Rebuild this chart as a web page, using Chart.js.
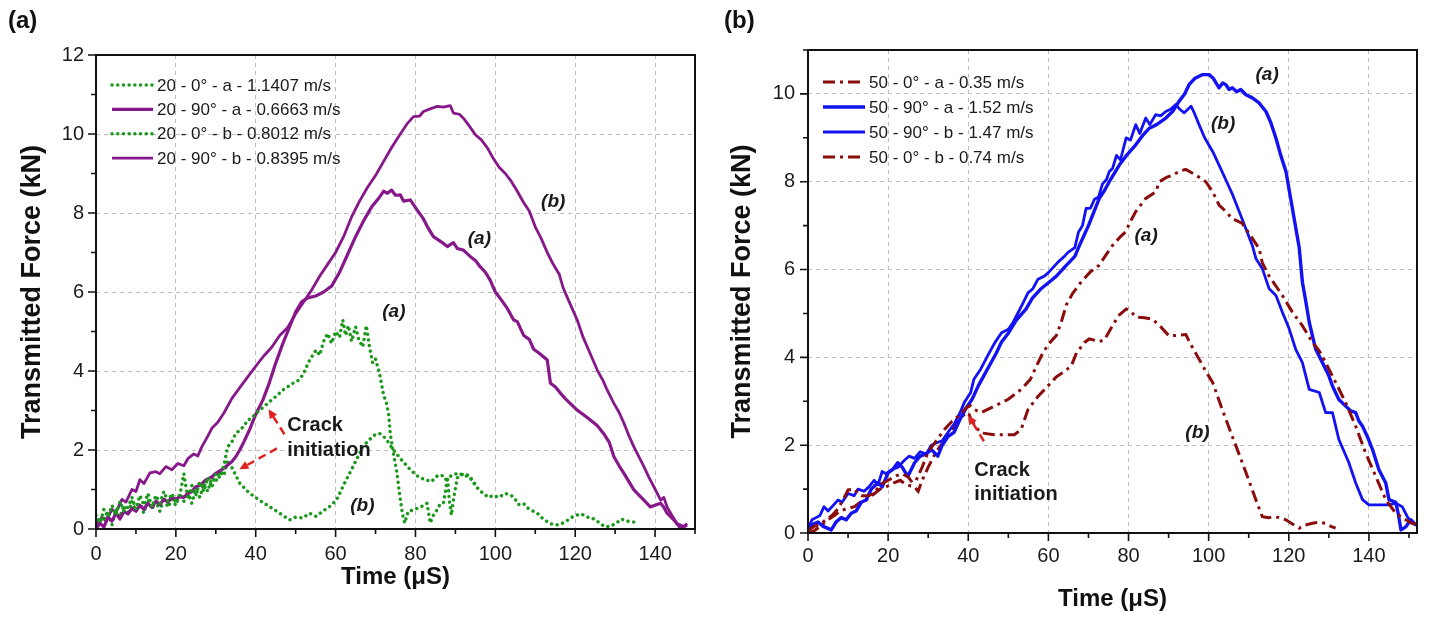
<!DOCTYPE html>
<html>
<head>
<meta charset="utf-8">
<script src="https://cdn.jsdelivr.net/npm/chart.js@4.4.0/dist/chart.umd.min.js"></script>
<style>
  html, body { margin: 0; padding: 0; background: #fff; }
  #wrap { position: relative; width: 1429px; height: 619px; }
  canvas { position: absolute; top: 0; }
  #left { left: 0; }
  #right { left: 715px; }
</style>
</head>
<body>
<div id="wrap">
  <canvas id="left" width="715" height="619"></canvas>
  <canvas id="right" width="714" height="619"></canvas>
</div>
<script>
// ---- panel (a) : 20 mm specimens ----
const t20_0a = [0,1,2,3,4,5,6,7,8,9,10,11,12,13,14,15,16,17,18,19,20,21,22,23,24,25,26,27,28,29,30,31,32,33,34,35,36,37,38,39,40,41,42,43,44,45,46.8,48,49.3,50.5,51.8,53.5,55.1,56,57,58,59,60,61,61.8,62.5,63.2,64,65,65.8,66.8,67.7,68.5,69.3,70,71,72,72.7,73.3,73.7,74.5,75.4,76,76.7,77.3,78.2,79.5,81,82.2,82.9,83.7,84.5,85.4,86,87,87.6,88,88.5,89,89.6,90.5,92,93.5,95];
const f20_0a = [0.35,0.15,0.5,0.3,0.6,0.35,0.7,0.45,0.55,0.8,0.5,0.85,0.6,0.9,0.55,0.85,0.65,0.95,0.7,0.9,0.65,0.85,1.4,0.75,1.1,0.85,1.2,0.95,1.3,1.05,1.4,1.3,1.6,2.08,2.2,2.42,2.5,2.6,2.76,2.8,2.93,3.0,3.1,3.18,3.27,3.35,3.52,3.6,3.69,3.75,3.9,4.28,4.53,4.4,4.75,4.95,4.7,5.0,4.85,5.29,4.9,5.15,4.75,5.12,4.8,4.61,5.15,4.6,4.2,4.3,3.94,3.4,3.2,2.9,2.4,1.9,1.4,0.9,0.4,0.15,0.45,0.48,0.55,0.6,0.65,0.15,0.35,0.48,0.6,0.65,1.0,1.32,0.7,0.35,0.8,1.3,1.4,1.35,1.1];

const t20_90a = [0,1,2,3,4,5,6,7,8,9,10,11,12,13,14,15,16,17,18,19,20,21,22,23,24,25,26,27.5,29,30,31.5,32.5,34,35,36,37,38.4,40,41.8,43.4,45,46.8,48.5,50,51.5,53,55,57,59,61,63,65,67,69,71,72,73,74,75,76.2,77,78.7,80.4,82,83,84.5,86,87,88,88.7,89.5,90.5,92,93.7,95,96.2,97.5,98.7,100,101.5,102.9,104.6,105.5,107.1,108.5,109.6,111,113,113.8,115,116.3,117.5,120.5,122,123.8,125.5,127.1,128.5,129.7,131,132.2,134.7,137.2,138.8,140,141.4,142.2,143,144.7,146.4,148];
const f20_90a = [0,0.15,0.05,0.3,0.2,0.4,0.25,0.45,0.38,0.52,0.45,0.6,0.5,0.65,0.55,0.7,0.62,0.75,0.68,0.8,0.75,0.82,0.8,0.9,0.95,1.07,1.1,1.24,1.32,1.41,1.5,1.58,1.7,1.83,2.0,2.2,2.5,2.9,3.27,3.7,4.2,4.7,5.12,5.5,5.75,5.85,5.9,6.0,6.15,6.5,6.95,7.4,7.8,8.15,8.4,8.55,8.5,8.58,8.45,8.46,8.3,8.33,8.08,7.85,7.65,7.4,7.3,7.23,7.15,7.2,7.25,7.1,7.06,6.9,6.8,6.64,6.5,6.3,6.0,5.8,5.6,5.29,5.25,4.9,4.8,4.55,4.45,4.28,3.69,3.6,3.44,3.3,3.01,2.9,2.76,2.62,2.42,2.2,1.83,1.6,1.41,0.99,0.73,0.56,0.6,0.65,0.55,0.4,0.23,0.02,0.1];

const t20_0b = [0,1,2,3,4,5,6,7,8,9,10,11,12,13,14,15,16,17,18,19,20,21,22,23,24,25,26,27,28,29,30,31,32,33,34.3,36,38.4,40.9,43.4,46,48.5,50,51.8,53.5,55.1,56.8,58.5,60.2,61.8,63.5,65.2,66.8,68.3,69.8,71,72.5,74.5,76.5,78.7,81,82.5,84,85.5,86.6,87.5,89,90.8,92,93.3,94.5,95.8,97,98.3,99.5,100.8,102.5,104,105,105.8,107,108,109.5,110.5,111.6,112.8,114,115.2,116.5,117.8,119,120.3,121.6,123,124,125.5,126.5,127.6,129,130,131.6,133,135];
const f20_0b = [0.1,0.3,0.2,0.45,0.1,0.5,0.3,0.6,0.35,0.7,0.45,0.65,0.4,0.75,0.5,0.7,0.45,0.8,0.55,0.75,0.6,0.9,0.7,0.95,0.65,1.0,0.8,1.15,0.95,1.3,1.2,1.45,1.35,1.75,1.5,1.16,0.91,0.73,0.57,0.4,0.23,0.3,0.28,0.4,0.32,0.45,0.57,0.73,1.07,1.41,1.75,2.08,2.25,2.38,2.42,2.3,2.0,1.75,1.5,1.3,1.25,1.2,1.35,1.36,1.25,1.35,1.42,1.35,1.33,1.2,1.0,0.9,0.8,0.85,0.8,0.9,0.85,0.75,0.62,0.65,0.54,0.45,0.4,0.29,0.2,0.13,0.1,0.13,0.2,0.29,0.35,0.38,0.3,0.29,0.2,0.12,0.05,0.08,0.13,0.25,0.2,0.17];

const t20_90b = [0,1.5,2.5,4,5,6.5,7.5,9,10,11,12,13.5,15,16,17.5,19,20.5,22,23,24.5,25.5,26.5,28,29,30.5,32,34,36,38,40,42,44,46,48,50,52,54,56,58,60,62,64,66,68,70,72,74,76,78,79.5,81,82,84,85.5,87,88.7,89.5,91,92,93.5,95,96.5,98,99.5,101,102.5,104,105.5,107,108.5,110,111.5,113,114.5,116,117,118.5,120.5,122,123.5,125.5,127,128,129.7,131,132.2,133.5,134.7,136,137.2,138.5,139.7,141.4,142.2,143,144.2,145.5,147.2,148];
const f20_90b = [0.1,0.3,0.2,0.5,0.42,0.75,0.68,1.0,0.95,1.25,1.15,1.42,1.45,1.4,1.58,1.5,1.66,1.6,1.78,1.9,1.85,2.08,2.35,2.55,2.7,2.93,3.3,3.58,3.85,4.12,4.38,4.6,4.9,5.1,5.45,5.75,6.05,6.4,6.7,7.0,7.4,7.9,8.3,8.65,8.95,9.3,9.65,9.97,10.27,10.44,10.45,10.57,10.65,10.7,10.68,10.72,10.53,10.5,10.4,10.2,9.98,9.85,9.65,9.38,9.15,9.0,8.8,8.55,8.28,8.05,7.65,7.35,7.0,6.7,6.45,6.1,5.75,5.29,4.85,4.5,4.03,3.75,3.52,3.18,2.95,2.68,2.35,2.08,1.82,1.58,1.3,1.07,0.73,0.8,0.56,0.35,0.14,0.06,0.14];

// ---- panel (b) : 50 mm specimens ----
const t50_0a = [0,1.5,3,4.5,6,7.5,9,10,11.6,12.5,13.3,15,16.5,18,20,22,23.5,25,26,27,28.5,30,32,34,36,38,39.5,40.5,41.6,43.2,46.5,49.9,53.2,55.5,57,58.6,60,62,63.2,64.5,66,68.2,70.5,72.7,74.5,76,78,79.3,80.5,81.8,84.3,86.8,87.7,89.5,91,93,94.3,96.8,99.3,101,102.6,104.3,105.9,108.4,110.9,112.6,113.4,115.1,118.4,120.9,123.4,125.9,127.6,129.2,131.7,134.2,136.7,139.2,141.7,144.2,146.7,149.2,150.8,151.8];
const f50_0a = [0.05,0.15,0.2,0.3,0.4,0.55,0.8,0.98,1.0,0.9,0.85,0.85,0.9,1.1,1.2,1.3,1.35,1.28,1.15,1.2,1.5,1.85,2.1,2.35,2.55,2.7,2.85,2.9,2.81,2.74,2.89,3.04,3.27,3.5,3.8,4.1,4.3,4.5,4.8,5.2,5.45,5.72,5.95,6.1,6.35,6.55,6.75,6.86,7.1,7.32,7.62,7.77,8.0,8.1,8.15,8.25,8.28,8.15,8.0,7.77,7.47,7.32,7.16,7.05,6.71,6.48,6.15,5.85,5.41,5.03,4.72,4.34,4.15,3.88,3.43,2.97,2.43,1.82,1.29,0.76,0.45,0.3,0.22,0.2];

const t50_90a = [0,1.2,2.5,3.8,5.8,7,8.3,9.5,10.8,12,13.3,14.5,15.8,17.5,18.5,20,21.2,22.4,23.5,24.9,25.8,26.6,28,29.5,30.8,32.4,33.5,35,36.5,38,39.5,41,42.5,44,45.5,47,48.3,50,52,54.4,56,58,60,62,64.4,66.6,68,70,72.7,74,75.5,77.7,79.5,81.8,83.5,85.2,87,89.3,91,92.6,94,95.1,96.5,98.5,100.1,101.2,102.6,103.5,104.3,105.1,105.9,107,108,109.3,110.9,112.5,114.3,115.5,116.8,118,119.3,120.9,122.6,123.4,124.2,125.1,126.7,128.4,130,130.9,132.5,134.2,135.5,136.7,137.5,138.4,139.6,140.9,142.5,144.2,145,146.7,147.3,148,149.2,150.5,151.5];
const f50_90a = [0.05,0.2,0.25,0.15,0.07,0.25,0.35,0.3,0.45,0.5,0.7,0.75,1.0,1.15,1.05,1.37,1.45,1.6,1.5,1.29,1.45,1.6,1.75,1.8,1.9,1.75,2.0,2.2,2.3,2.6,2.85,3.05,3.35,3.6,3.85,4.1,4.35,4.55,4.85,5.1,5.35,5.55,5.7,5.85,6.09,6.3,6.6,7.0,7.62,7.8,8.05,8.38,8.6,8.84,9.05,9.22,9.3,9.45,9.6,9.83,10.0,10.21,10.35,10.44,10.44,10.35,10.14,10.25,10.21,10.1,10.14,10.05,10.1,9.98,9.91,9.8,9.6,9.35,8.99,8.6,8.23,7.39,6.5,5.71,5.3,4.8,4.19,3.88,3.58,3.35,3.04,2.89,2.78,2.74,2.55,2.43,2.2,1.9,1.44,1.14,0.76,0.7,0.45,0.07,0.14,0.3,0.2];

const t50_90b = [0,1,2,3,4,5,6,7.5,8.5,10,11.5,12.5,14,15.2,16.5,17.5,18.5,19.5,21,22.5,24,25.2,26.6,28,29.5,30.8,32,33.5,35,36.6,38,39,40.6,41.4,43.1,44.8,46.6,48.3,50,51.2,52.4,54,54.9,56.1,57.4,59,60,61.2,62.4,64,64.9,66.6,67.5,68.5,69.4,70.5,71.5,72.5,73.5,74.5,75.2,76,77,78,79.4,80.5,81.8,82.8,84.3,85.3,86.8,88,89.3,90.5,91.8,92.8,93.9,95.6,96.5,97.6,99,101,103,104.5,106,107.5,109,110.9,111.8,113.4,115.1,116.8,118.4,120.1,121.7,123.4,125.1,127.6,129.2,130.9,132.5,135,136.7,138.4,140,145,146.7,148.3,149.6,150.8,151.8];
const f50_90b = [0.1,0.3,0.35,0.4,0.6,0.5,0.6,0.75,0.7,0.9,0.85,1.0,0.95,1.05,1.2,1.1,1.4,1.35,1.45,1.5,1.65,1.75,1.7,1.85,1.8,2.0,2.05,2.1,2.3,2.5,2.75,2.97,3.2,3.5,3.73,4.03,4.33,4.56,4.64,4.8,5.01,5.3,5.47,5.56,5.78,5.85,5.93,6.05,6.17,6.3,6.39,6.5,6.85,7.0,7.39,7.4,7.6,7.65,7.95,8.05,8.23,8.3,8.6,8.5,9.0,8.95,9.3,9.1,9.45,9.3,9.53,9.5,9.6,9.65,9.76,9.65,9.57,9.72,9.55,9.3,9.0,8.69,8.3,8.0,7.7,7.35,7.0,6.55,6.25,6.02,5.56,5.41,5.03,4.65,4.19,3.88,3.27,3.2,2.74,2.74,2.13,1.6,1.14,0.76,0.64,0.64,0.68,0.6,0.37,0.22,0.18];

const t50_0b = [0,1.5,3,5,6.6,8,9.5,11.6,13,14.5,16.6,18,19.5,21.6,23,24.5,26.6,27.5,28.5,30,32,34,36,38,39.5,40.2,40.7,42,43.2,46.5,51.5,53.2,54.9,57.4,59.9,61.9,63.5,65.7,67,69,70.2,72.7,74,76,77.5,79.4,80.5,81.9,84,86,88,90.1,92,94.3,95.5,97.6,99.5,101,103.4,105.9,108.4,110.9,112,113.4,115,116.8,119.3,121,122.6,124,125.9,127.5,129.2,130.5,131.7];
const f50_0b = [0,0.05,0.15,0.3,0.4,0.5,0.55,0.6,0.7,0.75,0.9,1.0,1.05,1.15,1.2,1.1,1.05,0.95,1.2,1.5,1.85,2.1,2.35,2.6,2.75,2.7,2.59,2.4,2.28,2.24,2.24,2.36,2.81,3.11,3.35,3.55,3.65,3.8,4.1,4.34,4.42,4.36,4.4,4.72,4.95,5.1,5.05,4.92,4.9,4.87,4.7,4.49,4.5,4.52,4.3,3.96,3.65,3.43,2.81,2.2,1.6,0.98,0.7,0.37,0.35,0.37,0.3,0.2,0.11,0.18,0.22,0.25,0.22,0.15,0.11];

// tick spacing
const xMajorStep = 20, xMinorStep = 10;
const yMajorStep = 2, yMinorStep = 1;

const FONT = "'Liberation Sans', Arial, sans-serif";
const GREEN = '#1c991c', PURPLE = '#86188a', BLUE = '#1212f2', DARKRED = '#8a0c0c', ARROW = '#e02323';

function pts(t, f) {
    return t.map((v, i) => ({ x: v, y: f[i] }));
}

function drawArrow(ctx, x1, y1, x2, y2) {
    const ang = Math.atan2(y2 - y1, x2 - x1);
    const hl = 10;
    ctx.strokeStyle = ARROW;
    ctx.fillStyle = ARROW;
    ctx.lineWidth = 2.5;
    ctx.setLineDash([8, 5]);
    ctx.beginPath();
    ctx.moveTo(x1, y1);
    ctx.lineTo(x2 - Math.cos(ang) * hl * 0.8, y2 - Math.sin(ang) * hl * 0.8);
    ctx.stroke();
    ctx.setLineDash([]);
    ctx.beginPath();
    ctx.moveTo(x2, y2);
    ctx.lineTo(x2 - hl * Math.cos(ang - 0.45), y2 - hl * Math.sin(ang - 0.45));
    ctx.lineTo(x2 - hl * Math.cos(ang + 0.45), y2 - hl * Math.sin(ang + 0.45));
    ctx.closePath();
    ctx.fill();
}

// frame, outward ticks, in-plot legend, notes and arrows
const decor = {
    id: 'decor',
    afterDraw(chart, args, o) {
        const { ctx, chartArea: a } = chart;
        const x = chart.scales.x, y = chart.scales.y;
        ctx.save();
        ctx.strokeStyle = '#111';
        ctx.lineWidth = 1.6;
        ctx.beginPath();
        for (let v = x.min; v <= x.max; v += xMinorStep) {
            const px = x.getPixelForValue(v);
            const len = v % xMajorStep === 0 ? 8 : 5;
            ctx.moveTo(px, a.bottom);
            ctx.lineTo(px, a.bottom + len);
        }
        for (let v = y.min; v <= y.max; v += yMinorStep) {
            const py = y.getPixelForValue(v);
            const len = v % yMajorStep === 0 ? 8 : 5;
            ctx.moveTo(a.left, py);
            ctx.lineTo(a.left - len, py);
        }
        ctx.stroke();
        ctx.lineWidth = 2;
        ctx.strokeRect(a.left, a.top, a.right - a.left, a.bottom - a.top);

        // legend
        const L = o.legend;
        ctx.font = '17px ' + FONT;
        ctx.textBaseline = 'middle';
        ctx.textAlign = 'left';
        chart.data.datasets.forEach((ds, i) => {
            const ly = a.top + L.top + i * L.gap;
            const lx = a.left + L.left;
            ctx.strokeStyle = ds.borderColor;
            ctx.lineWidth = ds.borderWidth;
            ctx.lineCap = ds.borderCapStyle || 'butt';
            ctx.setLineDash(ds.borderDash || []);
            ctx.beginPath();
            ctx.moveTo(lx, ly);
            ctx.lineTo(lx + L.len, ly);
            ctx.stroke();
            ctx.setLineDash([]);
            ctx.lineCap = 'butt';
            ctx.fillStyle = '#1a1a1a';
            ctx.fillText(ds.label, lx + L.len + 4, ly + 1);
        });

        // notes
        o.notes.forEach(n => {
            ctx.font = n.font;
            ctx.textAlign = n.align || 'center';
            ctx.fillStyle = '#1a1a1a';
            ctx.fillText(n.text, x.getPixelForValue(n.x), y.getPixelForValue(n.y));
        });
        o.arrows.forEach(r => {
            drawArrow(ctx, x.getPixelForValue(r[0]), y.getPixelForValue(r[1]),
                x.getPixelForValue(r[2]), y.getPixelForValue(r[3]));
        });

        // panel letter
        ctx.font = 'bold 24px ' + FONT;
        ctx.textAlign = 'left';
        ctx.fillStyle = '#111';
        ctx.fillText(o.panel.text, o.panel.x, o.panel.y);
        ctx.restore();
    }
};

function axes(xMax, yMax, yWidth, xHeight, xTitlePad, yTitlePad, xTickPad, yTickPad) {
    const tickFont = { family: FONT, size: 20 };
    const grid = { color: '#bdbdbd', lineWidth: 1, drawTicks: false };
    return {
        x: {
            type: 'linear', min: 0, max: xMax,
            ticks: { stepSize: xMajorStep, includeBounds: false, font: tickFont, color: '#1a1a1a', padding: xTickPad, maxRotation: 0 },
            grid: grid,
            border: { display: false, dash: [4, 4] },
            title: { display: true, text: 'Time (μS)', font: { family: FONT, size: 24, weight: 'bold' }, color: '#111', padding: { top: 0, bottom: xTitlePad } },
            afterFit: s => { s.height = xHeight; }
        },
        y: {
            type: 'linear', min: 0, max: yMax,
            ticks: { stepSize: yMajorStep, includeBounds: false, font: tickFont, color: '#1a1a1a', padding: yTickPad },
            grid: grid,
            border: { display: false, dash: [4, 4] },
            title: { display: true, text: 'Transmitted Force (kN)', font: { family: FONT, size: 27, weight: 'bold' }, color: '#111', padding: { top: yTitlePad, bottom: 0 } },
            afterFit: s => { s.width = yWidth; }
        }
    };
}

const noteFont = 'italic bold 19px ' + FONT;
const crackFont = 'bold 20px ' + FONT;

function dotted(label, t, f) {
    return { label, data: pts(t, f), borderColor: GREEN, borderWidth: 3.4, borderDash: [0.1, 5.6], borderCapStyle: 'round', pointRadius: 0, tension: 0 };
}
function solid(label, t, f, color, w) {
    return { label, data: pts(t, f), borderColor: color, borderWidth: w, pointRadius: 0, tension: 0, borderJoinStyle: 'round' };
}
function dashDot(label, t, f) {
    return { label, data: pts(t, f), borderColor: DARKRED, borderWidth: 3, borderDash: [12, 5, 3, 5], pointRadius: 0, tension: 0 };
}

new Chart(document.getElementById('left'), {
    type: 'line',
    data: {
        datasets: [
            dotted('20 - 0° - a - 1.1407 m/s', t20_0a, f20_0a),
            solid('20 - 90° - a - 0.6663 m/s', t20_90a, f20_90a, PURPLE, 3.2),
            dotted('20 - 0° - b - 0.8012 m/s', t20_0b, f20_0b),
            solid('20 - 90° - b - 0.8395 m/s', t20_90b, f20_90b, PURPLE, 2.8)
        ]
    },
    options: {
        responsive: false,
        animation: false,
        layout: { padding: { left: 0, top: 55, right: 20, bottom: 0 } },
        scales: axes(150, 12, 96, 90, 27, 16, 13, 12),
        plugins: {
            legend: { display: false },
            tooltip: { enabled: false },
            decor: {
                legend: { left: 16, top: 30, gap: 24.4, len: 41 },
                panel: { text: '(a)', x: 8, y: 21 },
                notes: [
                    { text: '(b)', x: 114.5, y: 8.28, font: noteFont },
                    { text: '(a)', x: 96, y: 7.34, font: noteFont },
                    { text: '(a)', x: 74.6, y: 5.5, font: noteFont },
                    { text: '(b)', x: 66.7, y: 0.58, font: noteFont },
                    { text: 'Crack', x: 47.9, y: 2.63, font: crackFont, align: 'left' },
                    { text: 'initiation', x: 47.9, y: 2.0, font: crackFont, align: 'left' }
                ],
                arrows: [[47.2, 2.4, 43.2, 3.03], [45.3, 2.04, 35.9, 1.51]]
            }
        }
    },
    plugins: [decor]
});

new Chart(document.getElementById('right'), {
    type: 'line',
    data: {
        datasets: [
            dashDot('50 - 0° - a - 0.35 m/s', t50_0a, f50_0a),
            solid('50 - 90° - a - 1.52 m/s', t50_90a, f50_90a, BLUE, 3.4),
            solid('50 - 90° - b - 1.47 m/s', t50_90b, f50_90b, BLUE, 2.8),
            dashDot('50 - 0° - b - 0.74 m/s', t50_0b, f50_0b)
        ]
    },
    options: {
        responsive: false,
        animation: false,
        layout: { padding: { left: 0, top: 50, right: 12, bottom: 0 } },
        scales: axes(152, 11, 93, 86, 5, 11, 11, 13),
        plugins: {
            legend: { display: false },
            tooltip: { enabled: false },
            decor: {
                legend: { left: 15, top: 32, gap: 25, len: 42 },
                panel: { text: '(b)', x: 9, y: 21 },
                notes: [
                    { text: '(a)', x: 114.6, y: 10.43, font: noteFont },
                    { text: '(b)', x: 103.6, y: 9.31, font: noteFont },
                    { text: '(a)', x: 84.4, y: 6.77, font: noteFont },
                    { text: '(b)', x: 97.2, y: 2.29, font: noteFont },
                    { text: 'Crack', x: 41.5, y: 1.42, font: crackFont, align: 'left' },
                    { text: 'initiation', x: 41.5, y: 0.87, font: crackFont, align: 'left' }
                ],
                arrows: [[43.9, 2.09, 40.0, 2.68]]
            }
        }
    },
    plugins: [decor]
});
</script>
</body>
</html>
